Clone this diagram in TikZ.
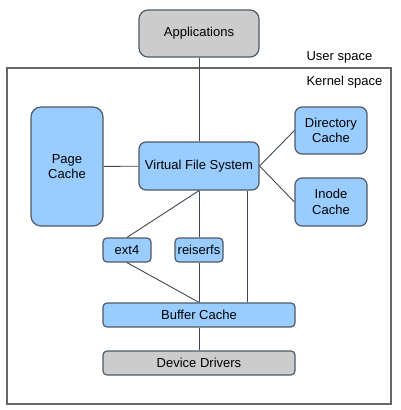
\documentclass[tikz,border=0pt]{standalone}
\usepackage{fontspec}
\setmainfont{Liberation Sans}
\definecolor{boxblue}{HTML}{99CCFF}
\definecolor{boxgray}{HTML}{CCCCCC}
\definecolor{edgegray}{HTML}{4F5A66}
\begin{document}
\begin{tikzpicture}[x=1pt, y=1pt,
  font=\fontsize{13}{15.5}\selectfont,
  blk/.style={draw=edgegray, line width=1.2pt, inner sep=0pt, align=center},
  fsblk/.style={blk, fill=boxblue, rounded corners=7pt},
  hwblk/.style={blk, fill=boxgray, rounded corners=7pt},
  smblk/.style={blk, fill=boxblue, rounded corners=4pt},
  wire/.style={draw=edgegray!80!black, line width=0.9pt}]
\useasboundingbox (0,0) rectangle (400,-410);
% user / kernel boundary
\draw[draw=gray!80!black, line width=1.2pt] (7,-68) rectangle (391,-404);
\node[anchor=west] (us) at (303,-57) {User space};
\node[anchor=west] (ks) at (303,-82) {Kernel space};
% blocks
\node[hwblk, minimum width=120pt, minimum height=47pt, rounded corners=9pt] (apps) at (199,-33.5) {Applications};
\node[fsblk, minimum width=120pt, minimum height=48pt] (vfs) at (199,-166) {Virtual File System};
\node[fsblk, minimum width=72pt, minimum height=119pt, rounded corners=10pt] (page) at (67,-166.5) {Page\\Cache};
\node[fsblk, minimum width=72pt, minimum height=47pt] (dir) at (331,-130.5) {Directory\\Cache};
\node[fsblk, minimum width=72pt, minimum height=48pt] (inode) at (331,-202) {Inode\\Cache};
\node[smblk, minimum width=48pt, minimum height=24pt] (ext4) at (127,-250) {ext4};
\node[smblk, minimum width=48pt, minimum height=24pt] (reiser) at (199,-250) {reiserfs};
\node[smblk, minimum width=192pt, minimum height=24pt] (buf) at (199,-315) {Buffer Cache};
\node[hwblk, minimum width=192pt, minimum height=24pt, rounded corners=4pt] (dev) at (199,-363) {Device Drivers};
% connections
\draw[wire] (apps) -- (vfs);
\draw[wire] (page) -- (vfs);
\draw[wire] (vfs.east) -- (dir.west);
\draw[wire] (vfs.east) -- (inode.west);
\draw[wire] (vfs.south) -- (ext4.north);
\draw[wire] (vfs.south) -- (reiser.north);
\draw[wire] ([xshift=48pt]vfs.south) -- ([xshift=48pt]buf.north);
\draw[wire] (ext4.south) -- (buf.north);
\draw[wire] (reiser.south) -- (buf.north);
\draw[wire] (buf) -- (dev);
\end{tikzpicture}
\end{document}
